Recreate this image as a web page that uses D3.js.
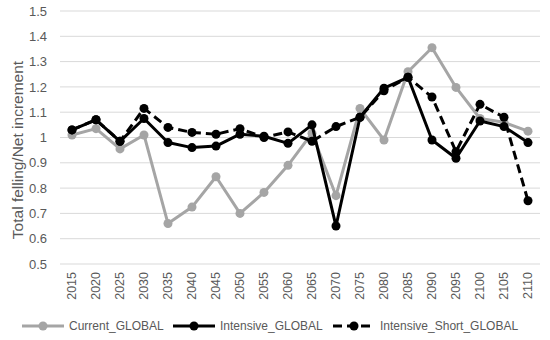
<!DOCTYPE html>
<html>
<head>
<meta charset="utf-8">
<script src="https://cdn.jsdelivr.net/npm/d3@7"></script>
<style>
  body { margin: 0; background: #fff; }
  text { font-family: "Liberation Sans", Arial, sans-serif; fill: #595959; }
</style>
</head>
<body>
<div id="chart"></div>
<script>
/** --- DATA --- */
const years = ['2015', '2020', '2025', '2030', '2035', '2040', '2045', '2050', '2055', '2060',
  '2065', '2070', '2075', '2080', '2085', '2090', '2095', '2100', '2105', '2110'];
const currentGlobal = [1.01, 1.035, 0.955, 1.01, 0.66, 0.725, 0.845, 0.70, 0.783, 0.89,
  1.017, 0.77, 1.115, 0.99, 1.26, 1.355, 1.198, 1.075, 1.06, 1.025];
const intensiveGlobal = [1.03, 1.07, 0.985, 1.075, 0.98, 0.96, 0.966, 1.013, 1.005, 0.977,
  1.05, 0.65, 1.08, 1.195, 1.238, 0.99, 0.918, 1.065, 1.043, 0.98];
const intensiveShortGlobal = [1.03, 1.07, 0.985, 1.115, 1.04, 1.02, 1.013, 1.035, 1.0, 1.022,
  0.985, 1.043, 1.08, 1.185, 1.238, 1.16, 0.944, 1.131, 1.08, 0.75];
const yTicks = [0.5, 0.6, 0.7, 0.8, 0.9, 1, 1.1, 1.2, 1.3, 1.4, 1.5];

const seriesNames = ['Current_GLOBAL', 'Intensive_GLOBAL', 'Intensive_Short_GLOBAL'];

/** --- DIMENSIONS --- */
const width = 550;
const height = 340;
const margin = { top: 11, right: 10, bottom: 76, left: 60 };
const plotW = 480;
const plotH = 253;

const svg = d3.select('#chart')
  .append('svg')
  .attr('width', width)
  .attr('height', height);

const series = [
  { name: seriesNames[0], values: currentGlobal, color: '#a5a5a5', dash: null },
  { name: seriesNames[1], values: intensiveGlobal, color: '#000000', dash: null },
  { name: seriesNames[2], values: intensiveShortGlobal, color: '#000000', dash: '9,5' }
];

/** --- SCALES --- */
const xScale = d3.scaleBand()
  .domain(years)
  .range([margin.left, margin.left + plotW]);

const yScale = d3.scaleLinear()
  .domain([0.5, 1.5])
  .range([margin.top + plotH, margin.top]);

/** --- GRID + AXES --- */
const grid = svg.append('g');
grid.selectAll('line')
  .data(yTicks)
  .enter()
  .append('line')
  .attr('x1', margin.left)
  .attr('x2', margin.left + plotW)
  .attr('y1', d => yScale(d))
  .attr('y2', d => yScale(d))
  .attr('stroke', '#d9d9d9')
  .attr('stroke-width', 1);

const yAxis = d3.axisLeft(yScale)
  .tickValues(yTicks)
  .tickSize(0)
  .tickPadding(6)
  .tickFormat(d => String(d));

svg.append('g')
  .attr('transform', `translate(${margin.left - 7},0)`)
  .call(yAxis)
  .call(g => g.select('.domain').remove())
  .selectAll('text')
  .style('font-size', '13px')
  .attr('fill', '#595959');

const xAxis = d3.axisBottom(xScale).tickSize(0).tickPadding(0);

svg.append('g')
  .attr('transform', `translate(0,${margin.top + plotH})`)
  .call(xAxis)
  .call(g => g.select('.domain').remove())
  .selectAll('text')
  .style('font-size', '12.5px')
  .attr('fill', '#595959')
  .attr('text-anchor', 'end')
  .attr('transform', 'rotate(-90)')
  .attr('x', -8)
  .attr('y', 0)
  .attr('dy', '0.35em');

svg.append('text')
  .attr('transform', 'translate(18,150) rotate(-90)')
  .attr('text-anchor', 'middle')
  .attr('dy', '0.35em')
  .style('font-size', '15.5px')
  .text('Total felling/Net increment');

/** --- LINES --- */
const line = d3.line()
  .x((d, i) => xScale(years[i]) + xScale.bandwidth() / 2)
  .y(d => yScale(d));

series.forEach(s => {
  const g = svg.append('g');
  g.append('path')
    .datum(s.values)
    .attr('fill', 'none')
    .attr('stroke', s.color)
    .attr('stroke-width', 3)
    .attr('stroke-linejoin', 'round')
    .attr('stroke-dasharray', s.dash)
    .attr('d', line);
  g.selectAll('circle')
    .data(s.values)
    .enter()
    .append('circle')
    .attr('cx', (d, i) => xScale(years[i]) + xScale.bandwidth() / 2)
    .attr('cy', d => yScale(d))
    .attr('r', 4.5)
    .attr('fill', s.color);
});

/** --- LEGEND --- */
const legendX = [22, 173, 333];
const legendY = 326;
series.forEach((s, i) => {
  const g = svg.append('g').attr('transform', `translate(${legendX[i]},${legendY})`);
  g.append('line')
    .attr('x1', 0)
    .attr('x2', 42)
    .attr('stroke', s.color)
    .attr('stroke-width', 3)
    .attr('stroke-dasharray', s.dash);
  g.append('circle')
    .attr('cx', 21)
    .attr('r', 4.5)
    .attr('fill', s.color);
  g.append('text')
    .attr('x', 47)
    .attr('dy', '0.35em')
    .style('font-size', '12px')
    .text(s.name);
});
</script>
</body>
</html>
